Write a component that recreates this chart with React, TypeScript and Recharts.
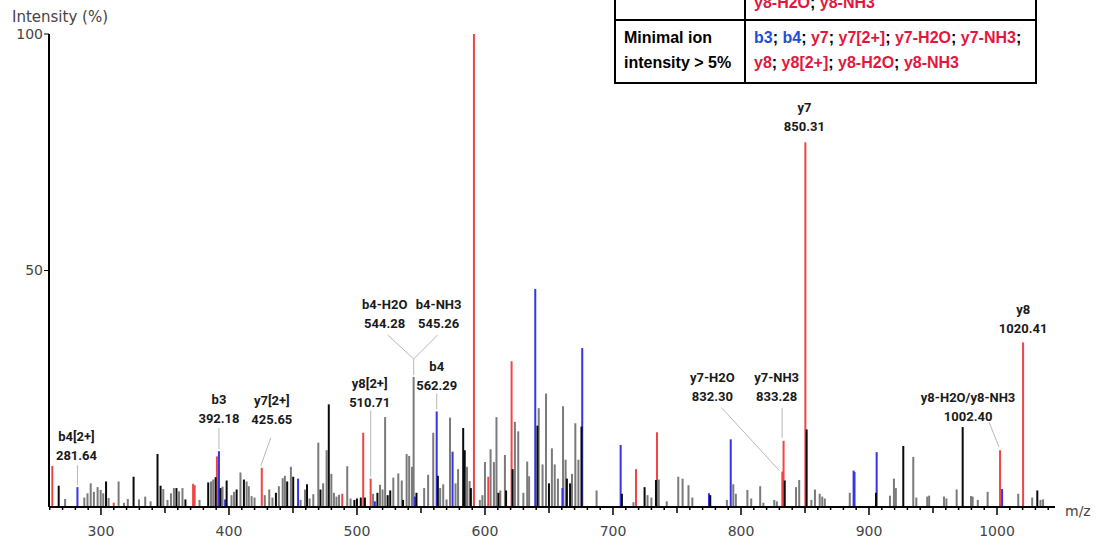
import React from "react";
import { ComposedChart, Bar, XAxis, YAxis, ReferenceDot } from "recharts";

// MS/MS peak list, split by the colour each peak is drawn in: [m/z, relative intensity %]
const grayPeaks: [number, number][] = [
  [272.0, 1.7], [287.0, 2.0], [289.5, 2.9], [292.0, 5.0], [294.5, 3.2], [297.4, 4.2], [299.8, 3.6],
  [301.8, 2.9], [306.0, 1.9], [313.8, 5.4], [318.0, 0.9], [321.0, 1.7], [329.7, 1.6], [334.6, 2.2],
  [338.8, 1.2], [348.7, 3.8], [352.0, 1.5], [354.7, 2.9], [357.0, 4.0], [361.0, 3.3], [363.7, 4.0],
  [377.0, 1.5], [386.0, 5.4], [387.7, 5.8], [395.0, 4.3], [402.0, 2.5], [404.0, 3.2], [409.0, 7.3],
  [413.8, 5.4], [415.5, 4.4], [417.7, 2.3], [420.0, 2.0], [428.0, 2.5], [431.5, 3.7], [434.0, 2.0],
  [439.0, 4.4], [442.0, 6.1], [443.7, 6.6], [448.4, 8.5], [456.0, 1.5], [459.4, 3.7], [463.0, 1.8],
  [465.9, 2.7], [469.8, 13.6], [473.6, 5.0], [476.3, 12.0], [480.0, 7.0], [482.0, 3.0], [484.0, 2.2],
  [486.0, 2.6], [492.4, 8.6], [495.0, 1.8], [512.6, 2.8], [518.0, 4.7], [520.0, 3.7], [522.0, 19.0],
  [528.4, 6.2], [532.3, 7.1], [535.0, 5.6], [538.8, 11.2], [540.8, 10.8], [543.0, 8.5], [544.28, 27.5],
  [552.5, 4.0], [555.6, 6.8], [559.6, 15.7], [565.0, 4.0], [567.4, 4.8], [570.0, 1.6], [572.7, 18.9],
  [577.0, 5.0], [579.0, 8.0], [586.0, 8.5], [588.0, 5.5], [596.0, 1.5], [598.0, 2.5], [600.0, 9.5],
  [604.4, 12.2], [607.0, 9.5], [609.0, 19.0], [612.0, 3.5], [615.6, 11.0], [623.4, 18.0], [626.0, 16.0],
  [630.0, 3.0], [633.0, 9.6], [634.5, 6.5], [642.0, 20.9], [645.0, 9.0], [647.7, 24.0], [652.3, 12.4],
  [654.5, 9.0], [657.0, 6.0], [661.0, 21.3], [663.0, 10.0], [668.0, 7.0], [670.6, 17.7], [673.0, 10.0],
  [687.2, 3.5], [716.0, 1.0], [727.0, 2.5], [730.0, 2.0], [735.8, 5.8], [742.0, 1.2], [751.0, 6.4],
  [754.4, 6.0], [759.0, 4.6], [762.0, 2.0], [789.0, 1.5], [794.0, 4.8], [796.0, 2.8], [805.0, 3.6],
  [808.0, 1.8], [815.0, 4.4], [817.5, 0.9], [826.0, 1.5], [828.0, 1.2], [843.0, 4.2], [845.5, 5.7],
  [855.0, 1.5], [857.8, 3.7], [861.5, 2.8], [863.5, 2.2], [865.5, 1.8], [885.0, 3.0], [916.4, 2.4],
  [919.5, 6.0], [921.0, 4.0], [934.6, 10.6], [937.0, 2.0], [945.5, 2.2], [947.0, 2.4], [958.6, 2.2],
  [960.5, 1.8], [968.5, 3.7], [979.7, 2.3], [981.0, 2.2], [985.0, 1.5], [992.7, 3.2], [1016.6, 2.8],
  [1027.5, 2.0], [1034.0, 1.5], [1036.0, 1.6],
];

const blackPeaks: [number, number][] = [
  [267.0, 4.5], [304.0, 5.4], [325.5, 6.4], [344.2, 11.2], [346.6, 4.5], [359.0, 4.0], [366.0, 1.6],
  [383.8, 5.2], [389.6, 6.3], [393.4, 4.0], [398.2, 5.6], [406.0, 3.7], [411.7, 5.8], [436.7, 3.0],
  [445.5, 5.4], [450.2, 6.4], [461.0, 4.8], [471.5, 3.7], [478.0, 21.7], [498.0, 1.5], [500.0, 1.8],
  [503.0, 2.0], [506.2, 2.0], [516.0, 3.0], [524.0, 2.5], [526.0, 3.5], [536.0, 1.5], [546.5, 3.0],
  [563.2, 6.6], [583.0, 16.7], [584.2, 12.0], [589.0, 4.0], [610.5, 3.0], [616.5, 3.5], [621.6, 8.0],
  [641.0, 17.2], [650.0, 5.0], [664.0, 6.0], [666.5, 5.0], [675.4, 17.0], [707.0, 2.8], [724.7, 4.2],
  [733.6, 5.7], [776.0, 2.5], [834.2, 5.6], [851.3, 16.4], [905.5, 3.0], [926.8, 12.9], [973.2, 16.9],
  [1031.5, 3.5],
];

// y ions and their losses
const redPeaks: [number, number][] = [
  [262.0, 8.7], [310.0, 0.9], [372.0, 4.9], [373.2, 4.6], [390.6, 10.7], [425.65, 8.3], [488.5, 2.8],
  [504.9, 15.7], [510.71, 6.0], [591.4, 100], [602.6, 6.4], [620.8, 30.8], [718.0, 8.0], [734.4, 15.8],
  [832.3, 7.5], [833.28, 14.0], [850.31, 77.1], [1002.4, 12.0], [1020.41, 34.8],
];

// b ions
const bluePeaks: [number, number][] = [
  [281.64, 4.2], [392.18, 11.8], [397.0, 1.6], [454.0, 6.0], [514.0, 1.2], [545.26, 2.2], [562.29, 20.2],
  [574.7, 11.7], [639.3, 46.1], [660.5, 4.0], [676.0, 33.6], [706.0, 13.1], [775.0, 2.9], [792.0, 14.3],
  [888.0, 7.7], [888.7, 7.4], [906.0, 11.6], [1004.0, 3.8],
];

const yTicks = [50, 100];

// ions listed in the criteria table
const previousRowTail = ["y8-H2O", "y8-NH3"];
const minimalIonsLine1 = ["b3", "b4", "y7", "y7[2+]", "y7-H2O", "y7-NH3"];
const minimalIonsLine2 = ["y8", "y8[2+]", "y8-H2O", "y8-NH3"];

const COLORS = { gray: "#7b7b7b", black: "#0a0a0a", red: "#f04545", blue: "#3535e6" };
const TABLE_RED = "#e3173e";
const TABLE_BLUE = "#1f4fd6";

// draw order: gray underneath, then red, blue, black on top
const spectrum = [
  { color: COLORS.gray, peaks: grayPeaks },
  { color: COLORS.red, peaks: redPeaks },
  { color: COLORS.blue, peaks: bluePeaks },
  { color: COLORS.black, peaks: blackPeaks },
].flatMap((layer) => layer.peaks.map(([mz, intensity]) => ({ mz, intensity, color: layer.color })));

const intensityAt = (mz: number) => spectrum.find((d) => d.mz === mz)?.intensity ?? 0;

// minor ticks every 10 m/z, labels on the hundreds
const xTicks: number[] = [];
for (let v = 260; v <= 1040; v += 10) xTicks.push(v);

type CalloutLabel = { name: string; mz: number; dx: number; dy: number };
type Callout = { mz: number; leader?: string; labels: CalloutLabel[] };

// annotated fragments; offsets are relative to the peak apex
const callouts: Callout[] = [
  { mz: 281.64, leader: "M0,-22L0,-2", labels: [{ name: "b4[2+]", mz: 281.64, dx: -1, dy: -51 }] },
  { mz: 392.18, leader: "M0,-23L0,-2", labels: [{ name: "b3", mz: 392.18, dx: 0, dy: -52 }] },
  { mz: 425.65, leader: "M9,-30L-1,-2", labels: [{ name: "y7[2+]", mz: 425.65, dx: 10, dy: -67 }] },
  { mz: 510.71, leader: "M0,-68L0,-2", labels: [{ name: "y8[2+]", mz: 510.71, dx: -1, dy: -95 }] },
  {
    mz: 544.28,
    leader: "M-26,-42L0,-18M24,-42L0,-18L0,-2",
    labels: [
      { name: "b4-H2O", mz: 544.28, dx: -29, dy: -72 },
      { name: "b4-NH3", mz: 545.26, dx: 25, dy: -72 },
    ],
  },
  { mz: 562.29, leader: "M0,-18L0,-2", labels: [{ name: "b4", mz: 562.29, dx: 0, dy: -45 }] },
  { mz: 832.3, leader: "M-61,-64L-3,-1", labels: [{ name: "y7-H2O", mz: 832.3, dx: -70, dy: -94 }] },
  { mz: 833.28, leader: "M-1.5,-33L-1.5,-3", labels: [{ name: "y7-NH3", mz: 833.28, dx: -7, dy: -63 }] },
  { mz: 850.31, labels: [{ name: "y7", mz: 850.31, dx: -1, dy: -35 }] },
  { mz: 1002.4, leader: "M-11,-28L-1,-3", labels: [{ name: "y8-H2O/y8-NH3", mz: 1002.4, dx: -32, dy: -53 }] },
  { mz: 1020.41, labels: [{ name: "y8", mz: 1020.41, dx: 0, dy: -33 }] },
];

const AXIS_FONT = "'DejaVu Sans', sans-serif";
const LABEL_FONT = "Roboto, sans-serif";
const TABLE_FONT = "'Liberation Sans', Arial, sans-serif";

// thin vertical stick centred on the peak m/z
function Stick(props: any) {
  const { x, y, width, height, payload } = props;
  if (height == null || height <= 0) return null;
  const cx = x + width / 2;
  return <rect x={cx - 1} y={y} width={2} height={height} fill={payload?.color ?? COLORS.gray} />;
}

function MzTick({ x, y, payload }: any) {
  const v = payload.value as number;
  const major = v % 100 === 0;
  const len = major ? 8 : v % 50 === 0 ? 6 : 3;
  return (
    <g>
      <line x1={x} x2={x} y1={y} y2={y + len} stroke="#000" strokeWidth={1.5} />
      {major && (
        <text x={x} y={y + 29} textAnchor="middle" fontFamily={AXIS_FONT} fontSize={14} fill="#444">
          {v}
        </text>
      )}
    </g>
  );
}

function CalloutMark({ cx, cy, spec }: { cx: number; cy: number; spec: Callout }) {
  return (
    <g>
      {spec.leader && (
        <path d={spec.leader} transform={`translate(${cx},${cy})`} stroke="#b8b8b8" strokeWidth={1} fill="none" />
      )}
      {spec.labels.map((l) => (
        <text
          key={l.name}
          textAnchor="middle"
          fontFamily={LABEL_FONT}
          fontWeight={700}
          fontSize={13}
          fill="#1a1a1a"
        >
          <tspan x={cx + l.dx} y={cy + l.dy} dy="0.35em">
            {l.name}
          </tspan>
          <tspan x={cx + l.dx} dy={19}>
            {l.mz.toFixed(2)}
          </tspan>
        </text>
      ))}
    </g>
  );
}

function IonList({ ions, trailing }: { ions: string[]; trailing: boolean }) {
  return (
    <>
      {ions.map((ion, i) => (
        <React.Fragment key={ion}>
          <span style={{ color: ion.startsWith("b") ? TABLE_BLUE : TABLE_RED }}>{ion}</span>
          {(i < ions.length - 1 || trailing) && <span style={{ color: "#000" }}>; </span>}
        </React.Fragment>
      ))}
    </>
  );
}

function CriteriaTable() {
  const text: React.CSSProperties = {
    position: "absolute",
    fontFamily: TABLE_FONT,
    fontWeight: 700,
    fontSize: 16,
    lineHeight: "25px",
    whiteSpace: "nowrap",
  };
  return (
    <div
      style={{
        position: "absolute",
        left: 614,
        top: -40,
        width: 423,
        height: 124,
        border: "2px solid #000",
        boxSizing: "border-box",
      }}
    >
      {/* row divider and column divider */}
      <div style={{ position: "absolute", left: 0, right: 0, top: 57, height: 2, background: "#000" }} />
      <div style={{ position: "absolute", left: 128, top: 0, bottom: 0, width: 2, background: "#000" }} />
      <div style={{ ...text, left: 138, top: 28 }}>
        <IonList ions={previousRowTail} trailing={false} />
      </div>
      <div style={{ ...text, left: 8, top: 63, color: "#000" }}>
        Minimal ion
        <br />
        intensity &gt; 5%
      </div>
      <div style={{ ...text, left: 138, top: 63 }}>
        <IonList ions={minimalIonsLine1} trailing={true} />
        <br />
        <IonList ions={minimalIonsLine2} trailing={false} />
      </div>
    </div>
  );
}

export default function App() {
  return (
    <div
      style={{
        position: "absolute",
        left: 0,
        top: 0,
        width: 1097,
        height: 541,
        overflow: "hidden",
        background: "#fff",
      }}
    >
      <ComposedChart
        width={1097}
        height={541}
        data={spectrum}
        margin={{ top: 34, right: 42, bottom: 0, left: 0 }}
      >
        <XAxis
          type="number"
          dataKey="mz"
          domain={[259.4, 1045.3]}
          allowDataOverflow
          ticks={xTicks}
          interval={0}
          tickSize={0}
          tickMargin={0}
          tickLine={false}
          axisLine={{ stroke: "#000", strokeWidth: 2 }}
          tick={(p: any) => <MzTick {...p} />}
          height={34}
        />
        <YAxis
          type="number"
          domain={[0, 100]}
          ticks={yTicks}
          interval={0}
          width={49}
          tickSize={5}
          tickMargin={1}
          axisLine={{ stroke: "#000", strokeWidth: 2 }}
          tickLine={{ stroke: "#000" }}
          tick={{ fill: "#444", fontSize: 14, fontFamily: AXIS_FONT }}
        />
        <Bar dataKey="intensity" barSize={2} shape={(p: any) => <Stick {...p} />} isAnimationActive={false} />
        {callouts.map((c) => (
          <ReferenceDot
            key={c.mz}
            x={c.mz}
            y={intensityAt(c.mz)}
            r={0}
            ifOverflow="visible"
            shape={(p: any) => <CalloutMark cx={p.cx} cy={p.cy} spec={c} />}
          />
        ))}
      </ComposedChart>
      <div
        style={{
          position: "absolute",
          left: 12,
          top: 10,
          fontFamily: AXIS_FONT,
          fontSize: 15,
          lineHeight: "15px",
          color: "#444",
          whiteSpace: "nowrap",
        }}
      >
        Intensity (%)
      </div>
      <div
        style={{
          position: "absolute",
          left: 1065,
          top: 504,
          fontFamily: AXIS_FONT,
          fontSize: 14,
          lineHeight: "14px",
          color: "#444",
        }}
      >
        m/z
      </div>
      <CriteriaTable />
    </div>
  );
}
